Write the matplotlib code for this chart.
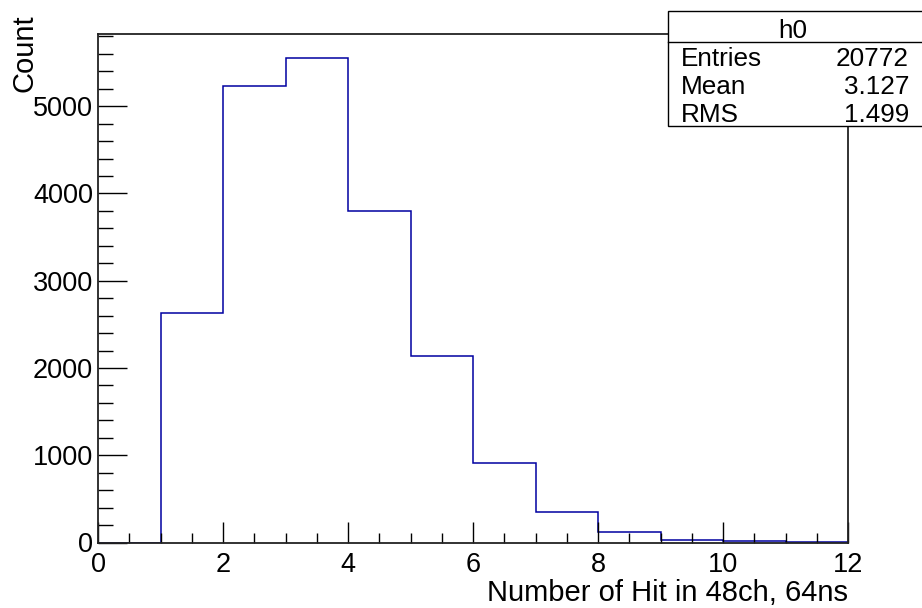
import numpy as np
import matplotlib
matplotlib.use("Agg")
import matplotlib.pyplot as plt
import matplotlib.patches as mpatches
from matplotlib.ticker import MultipleLocator

plt.rcParams['font.family'] = ['Liberation Sans', 'DejaVu Sans']

# histogram contents
bin_edges = [0, 1, 2, 3, 4, 5, 6, 7, 8, 9, 10, 11, 12]
counts = [0, 2625, 5235, 5550, 3795, 2140, 912, 345, 120, 33, 12, 5]

hist_name = "h0"
stat_names = ["Entries", "Mean", "RMS"]
stat_values = ["20772", "3.127", "1.499"]

W, H = 922, 608
fig = plt.figure(figsize=(W / 100, H / 100), dpi=100)


def fx(px):
    return px / W


def fy(py):
    return 1 - py / H


# axes frame in pixels: x 98..848, y 34..542
ax = fig.add_axes([fx(98), fy(542.5), fx(848) - fx(98), fy(34) - fy(542.5)])

ax.stairs(counts, bin_edges, color='#0000a0', linewidth=1.1)

ax.set_xlim(0, 12)
ax.set_ylim(0, max(counts) * 1.05)

ax.xaxis.set_major_locator(MultipleLocator(2))
ax.xaxis.set_minor_locator(MultipleLocator(0.5))
ax.yaxis.set_major_locator(MultipleLocator(1000))
ax.yaxis.set_minor_locator(MultipleLocator(200))

ax.tick_params(axis='both', which='both', direction='in', top=False, right=False,
               labelsize=19.5, colors='black', width=1.0)
ax.tick_params(axis='x', which='major', length=15, pad=7)
ax.tick_params(axis='x', which='minor', length=7.5)
ax.tick_params(axis='y', which='major', length=21, pad=3.5)
ax.tick_params(axis='y', which='minor', length=10.5)

for sp in ax.spines.values():
    sp.set_linewidth(1.3)
    sp.set_color('#222222')

# axis titles, ROOT style (right / top aligned)
fig.text(fx(848), fy(601), "Number of Hit in 48ch, 64ns", ha='right', va='baseline',
         fontsize=21)
fig.text(fx(33), fy(14), "Count", ha='right', va='baseline', rotation=90,
         rotation_mode='anchor', fontsize=21)

# stats box
box_l, box_t, box_b, box_r = 668, 11, 126, 935
rect = mpatches.Rectangle((fx(box_l), fy(box_b)), fx(box_r) - fx(box_l),
                          fy(box_t) - fy(box_b), transform=fig.transFigure,
                          facecolor='white', edgecolor='black', linewidth=1.0,
                          zorder=5)
fig.add_artist(rect)
sep = plt.Line2D([fx(box_l), fx(box_r)], [fy(41.7), fy(41.7)],
                 transform=fig.transFigure, color='black', linewidth=1.0, zorder=6)
fig.add_artist(sep)

fig.text(fx(793), fy(38.3), hist_name, ha='center', va='baseline', fontsize=18.8,
         zorder=7)
baselines = [66, 94.3, 121.7]
for name, val, yb in zip(stat_names, stat_values, baselines):
    fig.text(fx(681), fy(yb), name, ha='left', va='baseline', fontsize=18.8, zorder=7)
    fig.text(fx(909), fy(yb), val, ha='right', va='baseline', fontsize=18.8, zorder=7)

fig.savefig("out.png", dpi=100, facecolor='white')
